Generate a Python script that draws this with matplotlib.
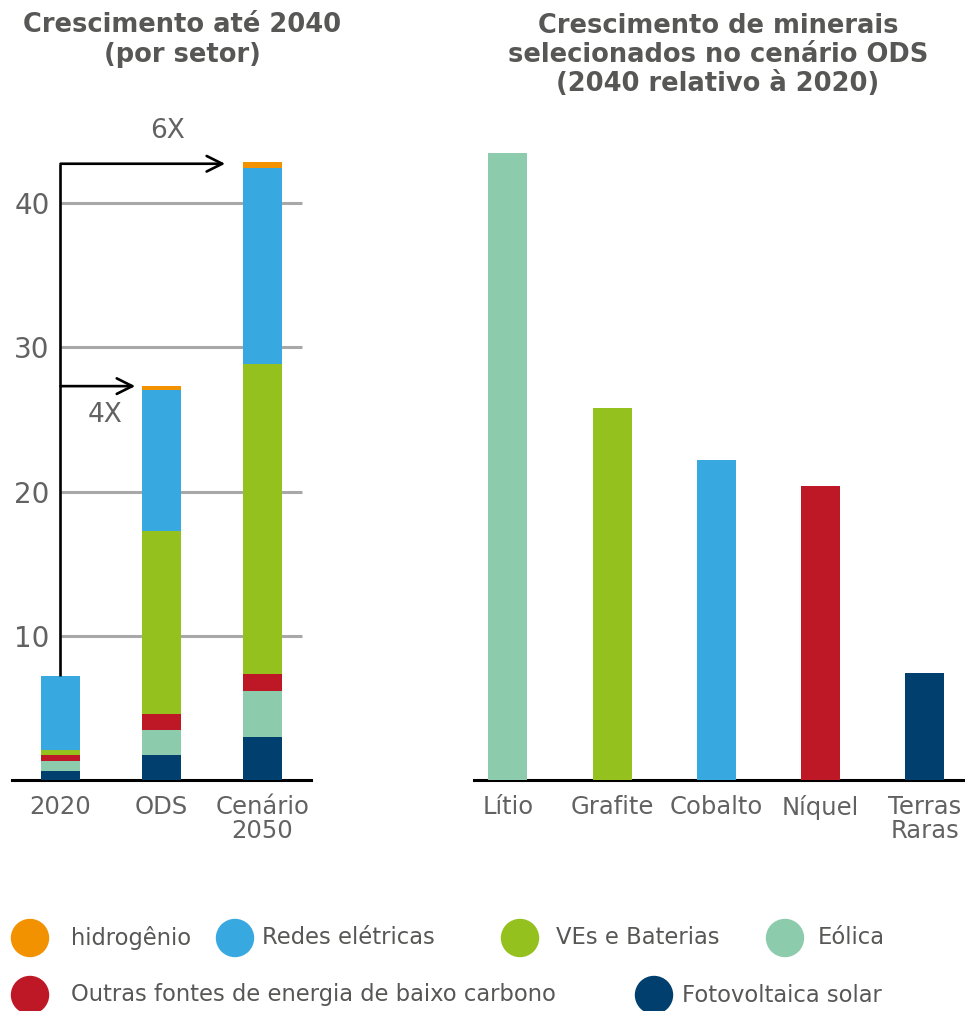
import matplotlib
matplotlib.use("Agg")
import matplotlib.pyplot as plt
from matplotlib.patches import Ellipse
import numpy as np

plt.rcParams['font.family'] = ['DejaVu Sans']

# ---- data ----
scenarios = ["2020", "ODS", "Cenário\n2050"]
sectors = ["Fotovoltaica solar", "Eólica", "Outras fontes de energia de baixo carbono",
           "VEs e Baterias", "Redes elétricas", "hidrogênio"]
solar = [0.62, 1.73, 2.98]
eolica = [0.70, 1.74, 3.19]
outras = [0.42, 1.10, 1.18]
ves = [0.35, 12.70, 21.48]
redes = [5.11, 9.77, 13.63]
hidrogenio = [0.0, 0.27, 0.37]
stack = [solar, eolica, outras, ves, redes, hidrogenio]

minerals = ["Lítio", "Grafite", "Cobalto", "Níquel", "Terras\nRaras"]
mineral_values = [43.5, 25.8, 22.2, 20.4, 7.4]

yticks = [10, 20, 30, 40]
growth_labels = ["4X", "6X"]

colors = {
    "Fotovoltaica solar": "#003F6E",
    "Eólica": "#8DCBAD",
    "Outras fontes de energia de baixo carbono": "#BE1826",
    "VEs e Baterias": "#95C11F",
    "Redes elétricas": "#38A9E0",
    "hidrogênio": "#F39200",
}
mineral_colors = ["#8DCBAD", "#95C11F", "#38A9E0", "#BE1826", "#003F6E"]
TXT = "#575756"
TICK = "#626262"

W, H = 965, 1011
fig = plt.figure(figsize=(W / 100, H / 100), dpi=100)

base_y = (H - 780) / H
ax_h = (780 - 131) / H
ax1 = fig.add_axes([12 / W, base_y, (311 - 12) / W, ax_h])
ax2 = fig.add_axes([474 / W, base_y, (965 - 474) / W, ax_h])

# ---- left stacked chart ----
x = np.arange(len(scenarios))
bottom = np.zeros(len(scenarios))
for name, vals in zip(sectors, stack):
    ax1.bar(x, vals, width=0.39, bottom=bottom, color=colors[name], zorder=3)
    bottom += np.array(vals)
totals = bottom

ax1.set_xlim(-0.48, 2.48)
ax1.set_ylim(0, 45)
ax1.hlines(yticks, 0, 2.39, color="#A8A8A8", lw=2.2, zorder=1)
ax1.set_yticks(yticks)
ax1.set_yticklabels([str(t) for t in yticks], fontsize=20, color=TICK)
ax1.tick_params(axis='y', length=0, pad=-27)
ax1.set_xticks(x)
ax1.set_xticklabels(scenarios, fontsize=17.5, color=TICK, linespacing=1.0)
ax1.tick_params(axis='x', length=0, pad=11)
for s in ["top", "right", "left"]:
    ax1.spines[s].set_visible(False)
ax1.spines["bottom"].set_color("black")
ax1.spines["bottom"].set_linewidth(2.2)

# growth arrows
top6 = totals[2] - 0.1
top4 = totals[1]
ax1.plot([0, 0], [totals[0], top6], color="black", lw=1.9, zorder=4, solid_capstyle='butt')
ax1.annotate("", xy=(1.63, top6), xytext=(0, top6),
             arrowprops=dict(arrowstyle="->", color="black", lw=1.9,
                             mutation_scale=28, shrinkA=0, shrinkB=0), zorder=4)
ax1.annotate("", xy=(0.74, top4), xytext=(0, top4),
             arrowprops=dict(arrowstyle="->", color="black", lw=1.9,
                             mutation_scale=28, shrinkA=0, shrinkB=0), zorder=4)
ax1.text(1.06, 45.0, growth_labels[1], fontsize=19, color=TICK, ha='center', va='center',
         clip_on=False)
ax1.text(0.44, 25.3, growth_labels[0], fontsize=19, color=TICK, ha='center', va='center')

# ---- right chart ----
xm = np.arange(len(minerals))
ax2.bar(xm, mineral_values, width=0.374, color=mineral_colors, zorder=3)
ax2.set_xlim(-0.326, 4.384)
ax2.set_ylim(0, 45)
ax2.set_yticks([])
ax2.set_xticks(xm)
ax2.set_xticklabels(minerals, fontsize=17.5, color=TICK, linespacing=1.0)
ax2.tick_params(axis='x', length=0, pad=11)
for s in ["top", "right", "left"]:
    ax2.spines[s].set_visible(False)
ax2.spines["bottom"].set_color("black")
ax2.spines["bottom"].set_linewidth(2.2)

# ---- titles ----
fig.text(182 / W, 1 - 40 / H, "Crescimento até 2040\n(por setor)", ha='center', va='center',
         fontsize=18.5, fontweight='bold', color=TXT, linespacing=1.25)
fig.text(718 / W, 1 - 55 / H, "Crescimento de minerais\nselecionados no cenário ODS\n(2040 relativo à 2020)",
         ha='center', va='center', fontsize=18.5, fontweight='bold', color=TXT, linespacing=1.13)

# ---- legend ----
legend_layout = [
    ("hidrogênio", 30, 938, 71),
    ("Redes elétricas", 235, 938, 262),
    ("VEs e Baterias", 520, 938, 556),
    ("Eólica", 785, 938, 818),
    ("Outras fontes de energia de baixo carbono", 30, 995, 71),
    ("Fotovoltaica solar", 654, 995, 682),
]
for name, cx, cy, tx in legend_layout:
    e = Ellipse((cx / W, 1 - cy / H), 37 / W, 37 / H, transform=fig.transFigure,
                color=colors[name], clip_on=False)
    fig.add_artist(e)
    fig.text(tx / W, 1 - cy / H, name, ha='left', va='center', fontsize=16.3, color=TXT)

fig.savefig("out.png", dpi=100)
